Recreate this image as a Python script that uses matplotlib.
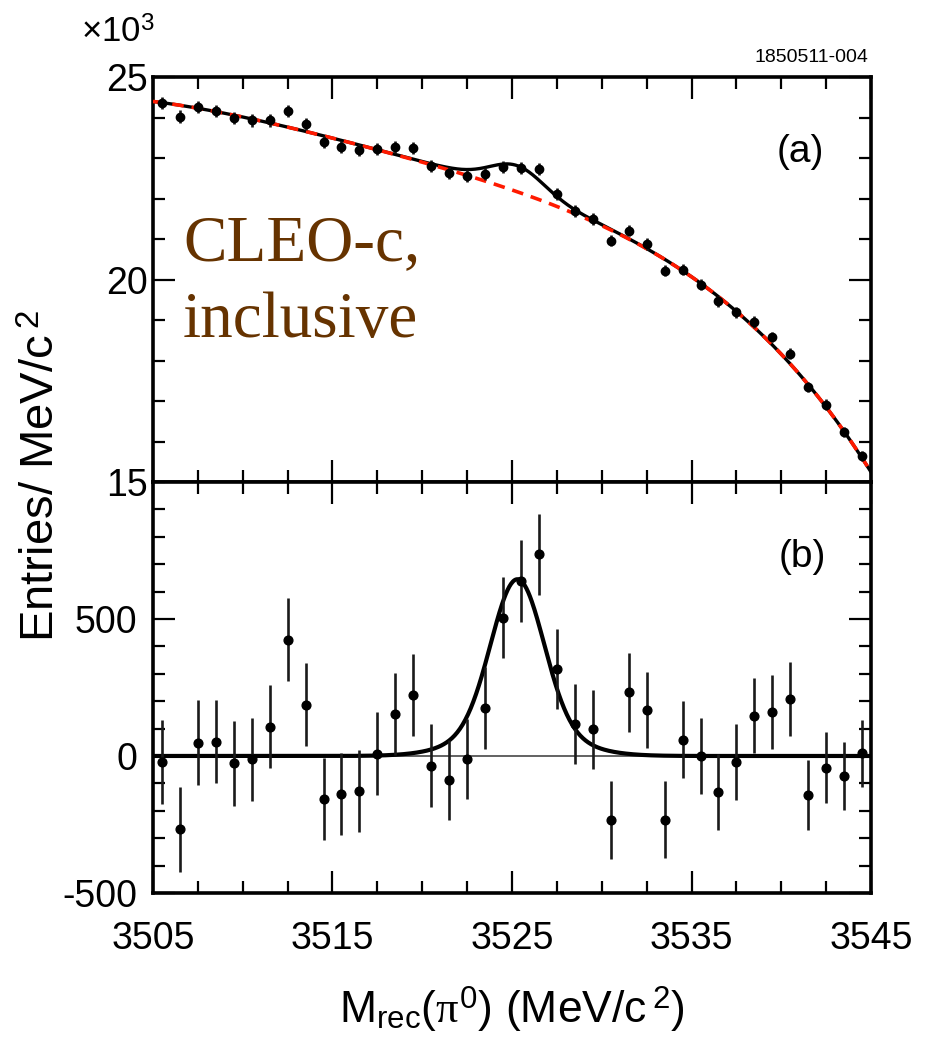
import numpy as np
import matplotlib
matplotlib.use("Agg")
import matplotlib.pyplot as plt
from matplotlib.ticker import MultipleLocator, FixedLocator

plt.rcParams['font.family'] = ['Liberation Sans', 'DejaVu Sans']
plt.rcParams['mathtext.fontset'] = 'custom'
plt.rcParams['mathtext.rm'] = 'Liberation Sans'
plt.rcParams['mathtext.it'] = 'Liberation Serif'
plt.rcParams['axes.unicode_minus'] = False

# ---- data -------------------------------------------------------------
# bin centres of the recoil-mass histogram (MeV/c^2)
mass = [3505.5, 3506.5, 3507.5, 3508.5, 3509.5, 3510.5, 3511.5, 3512.5,
        3513.5, 3514.5, 3515.5, 3516.5, 3517.5, 3518.5, 3519.5, 3520.5,
        3521.5, 3522.5, 3523.5, 3524.5, 3525.5, 3526.5, 3527.5, 3528.5,
        3529.5, 3530.5, 3531.5, 3532.5, 3533.5, 3534.5, 3535.5, 3536.5,
        3537.5, 3538.5, 3539.5, 3540.5, 3541.5, 3542.5, 3543.5, 3544.5]

# (a) entries per MeV/c^2, in units of 10^3
entries_k = [24.36, 24.02, 24.26, 24.17, 23.99, 23.93, 23.93, 24.17,
             23.84, 23.39, 23.28, 23.20, 23.23, 23.27, 23.24, 22.81,
             22.63, 22.55, 22.61, 22.78, 22.75, 22.72, 22.12, 21.70,
             21.50, 20.96, 21.21, 20.88, 20.22, 20.24, 19.87, 19.46,
             19.19, 18.95, 18.58, 18.17, 17.34, 16.91, 16.23, 15.65]

# (b) background-subtracted entries per MeV/c^2
residual = [-21, -268, 49, 52, -27, -12, 107, 425, 187, -158, -139, -128,
            8, 153, 223, -35, -88, -11, 175, 504, 638, 736, 317, 117, 98,
            -234, 232, 168, -232, 59, 0, -131, -21, 147, 160, 208, -143,
            -43, -73, 10]

# statistical uncertainty per bin (entries)
errors = [154, 154, 154, 152, 154, 152, 152, 152, 152, 150, 150, 151, 151,
          150, 151, 150, 147, 147, 148, 148, 150, 147, 146, 145, 144, 143,
          143, 140, 140, 140, 140, 139, 138, 137, 135, 134, 128, 129, 125,
          123]

# background shape (10^3 entries) at reference masses
bkg_mass = [3505.0, 3507.5, 3510.0, 3512.5, 3515.0, 3517.5, 3520.0, 3522.5,
            3525.0, 3527.5, 3530.0, 3532.5, 3535.0, 3537.5, 3540.0, 3542.5,
            3545.0]
bkg_k = [24.43, 24.21, 23.98, 23.74, 23.49, 23.22, 22.95, 22.60, 22.22,
         21.80, 21.30, 20.71, 20.03, 19.21, 18.22, 16.92, 15.18]

# signal line shape: peak position, core and tail components
peak_mass = 3525.3
core_amp, core_sigma = 540.0, 1.45
tail_amp, tail_sigma = 105.0, 2.7

# ---- curves -------------------------------------------------------------
xf = np.linspace(3505, 3545, 801)
bkg_coef = np.polyfit(np.array(bkg_mass) - 3525.0, bkg_k, 4)
bkg_curve = np.polyval(bkg_coef, xf - 3525.0)
signal = (core_amp * np.exp(-0.5 * ((xf - peak_mass) / core_sigma) ** 2)
          + tail_amp * np.exp(-0.5 * ((xf - peak_mass) / tail_sigma) ** 2))
total_curve = bkg_curve + signal / 1000.0

mass = np.array(mass)
errors = np.array(errors)

# ---- figure ---------------------------------------------------------------
fig = plt.figure(figsize=(9.35, 10.37), dpi=100)
ax1 = fig.add_axes([0.1636, 0.5352, 0.7680, 0.3905])
ax2 = fig.add_axes([0.1636, 0.1389, 0.7680, 0.3963], sharex=ax1)

for ax in (ax1, ax2):
    for s in ax.spines.values():
        s.set_linewidth(2.6)
    ax.tick_params(which='both', direction='in', top=True, right=True,
                   width=1.6, labelsize=27)
    ax.tick_params(which='major', length=15.5)
    ax.tick_params(which='minor', length=8.5)
    ax.xaxis.set_major_locator(MultipleLocator(10))
    ax.xaxis.set_minor_locator(MultipleLocator(2.5))

ax1.set_xlim(3505, 3545)

# (a) fit to the full spectrum
ax1.plot(xf, total_curve, color='black', lw=2.4, zorder=2)
ax1.plot(xf, bkg_curve, color='#ff1a00', lw=2.6, ls=(0, (3.2, 2.2)),
         zorder=3)
ax1.errorbar(mass, entries_k, yerr=errors / 1000.0, fmt='o', ms=6,
             color='black', ecolor='#1a1a1a', elinewidth=1.9, capsize=0,
             zorder=4)
ax1.set_ylim(15, 25)
ax1.yaxis.set_major_locator(FixedLocator([15, 20, 25]))
ax1.yaxis.set_minor_locator(MultipleLocator(1))
ax1.tick_params(axis='x', labelbottom=False)
ax1.tick_params(axis='y', pad=4)
ax1.text(0.901, 0.815, '(a)', transform=ax1.transAxes, fontsize=28,
         ha='center', va='center')

# (b) background-subtracted spectrum
ax2.axhline(0, color='#555555', lw=1.3, zorder=1)
ax2.plot(xf, signal, color='black', lw=3.0, zorder=2)
ax2.errorbar(mass, residual, yerr=errors, fmt='o', ms=6.3, color='black',
             ecolor='#1a1a1a', elinewidth=1.9, capsize=0, zorder=4)
ax2.set_ylim(-500, 1000)
ax2.yaxis.set_major_locator(FixedLocator([-500, 0, 500]))
ax2.yaxis.set_minor_locator(MultipleLocator(100))
ax2.tick_params(axis='y', pad=11.5)
ax2.tick_params(axis='x', pad=20)
ax2.set_xticks([3505, 3515, 3525, 3535, 3545])
ax2.text(0.904, 0.8175, '(b)', transform=ax2.transAxes, fontsize=28,
         ha='center', va='center')

# labels and annotations
fig.text(512 / 935, 1 - 1023 / 1037,
         r'M$_{\mathrm{rec}}$($\pi^{0}$) (MeV/c$\,^{2}$)',
         ha='center', va='baseline', fontsize=32)
fig.text(42 / 935, 1 - 476 / 1037, r'Entries/ MeV/c$\,^{2}$',
         rotation=90, ha='center', va='center', fontsize=34)
fig.text(81 / 935, 1 - 43 / 1037, r'$\times$10$^{3}$', fontsize=25,
         ha='left', va='baseline')
fig.text(868 / 935, 1 - 62 / 1037, '1850511-004', fontsize=14,
         ha='right', va='baseline')
fig.text(183 / 935, 1 - 260 / 1037, 'CLEO-c,', family='Liberation Serif',
         fontsize=47, color='#663300', ha='left', va='baseline')
fig.text(183 / 935, 1 - 337 / 1037, 'inclusive', family='Liberation Serif',
         fontsize=47, color='#663300', ha='left', va='baseline')

fig.savefig('out.png', dpi=100)
